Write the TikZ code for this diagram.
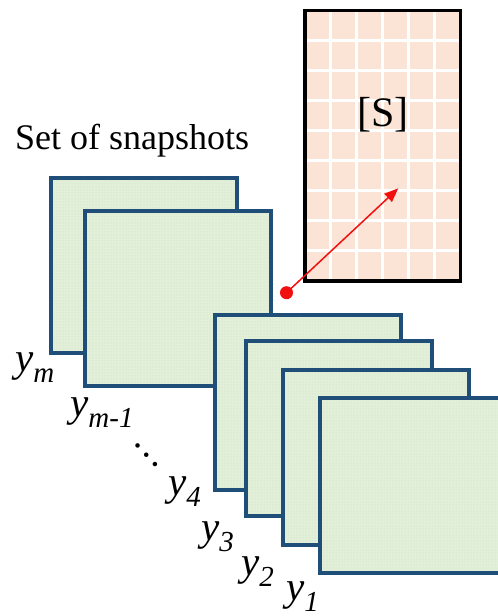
\documentclass[tikz,border=0pt]{standalone}
\usepackage{fontspec}
\setmainfont{Liberation Serif}
\usetikzlibrary{arrows.meta,patterns}
\definecolor{snapblue}{HTML}{1F4E79}
\definecolor{snapgreen}{HTML}{E2EFD9}
\definecolor{dotgreen}{HTML}{CADDBB}
\definecolor{peach}{HTML}{FBE4D5}
\definecolor{arrowred}{HTML}{F20F0F}
\newcommand\ylab[1]{\fontsize{41}{41}\selectfont\textit{y}\raisebox{-11pt}{\fontsize{29}{29}\selectfont\textit{#1}}}
\begin{document}
\begin{tikzpicture}[x=1pt,y=-1pt,
  snap/.style={draw=snapblue,line width=4pt,fill=snapgreen,inner sep=0pt,outer sep=0pt,
    minimum width=186pt,minimum height=175pt,anchor=north west,
    postaction={pattern=dots,pattern color=dotgreen},
    postaction={draw=snapblue,line width=4pt}},
  matbox/.style={draw=black,line width=3.5pt,fill=peach,inner sep=0pt,outer sep=0pt,
    minimum width=155.5pt,minimum height=270.5pt,anchor=north west},
  gridline/.style={white,line width=3pt},
  ylabel/.style={anchor=base west,inner sep=0pt},
  title/.style={anchor=base west,inner sep=0pt,font=\fontsize{36}{36}\selectfont},
  arrowline/.style={arrowred,line width=1.5pt,-{Triangle[length=14pt,width=11pt]}}
]
\clip (0,0) rectangle (498,616);
% matrix S
\node[matbox] (sbox) at (305,10.5) {};
\foreach \k in {1,...,5} {
  \draw[gridline] (305+\k*25.917,12) -- (305+\k*25.917,279.5);
}
\foreach \k in {1,...,8} {
  \draw[gridline] (306.5,10.5+\k*30.056) -- (459,10.5+\k*30.056);
}
\draw[black,line width=3.5pt] (sbox.north west) rectangle (sbox.south east);
\node[anchor=base,inner sep=0pt,font=\fontsize{42}{42}\selectfont] (slabel) at (383,126) {[S]};
% title
\node[title] (settitle) at (15,149) {Set of snapshots};
% snapshots
\node[snap] (ym) at (50.5,177.5) {};
\node[snap] (ymm) at (84.5,211) {};
\node[snap] (y4) at (214.5,315) {};
\node[snap] (y3) at (245.5,340.5) {};
\node[snap] (y2) at (282.5,370) {};
\node[snap] (y1) at (319.5,398) {};
% arrow
\node[circle,fill=arrowred,minimum size=13pt,inner sep=0pt] (dot) at (286.5,292.7) {};
\coordinate (tip) at (398.3,188.3);
\draw[arrowline] (dot.center) -- (tip);
% labels
\node[ylabel] (lym) at (15,371) {\ylab{m}};
\node[ylabel] (lymm) at (70,416) {\ylab{m-1}};
\node[rotate=-47,inner sep=0pt,font=\fontsize{38}{38}\selectfont] (ldots) at (147,455) {…};
\node[ylabel] (ly4) at (168,495) {\ylab{4}};
\node[ylabel] (ly3) at (201,540) {\ylab{3}};
\node[ylabel] (ly2) at (241,575) {\ylab{2}};
\node[ylabel] (ly1) at (286,600) {\ylab{1}};
\end{tikzpicture}
\end{document}
